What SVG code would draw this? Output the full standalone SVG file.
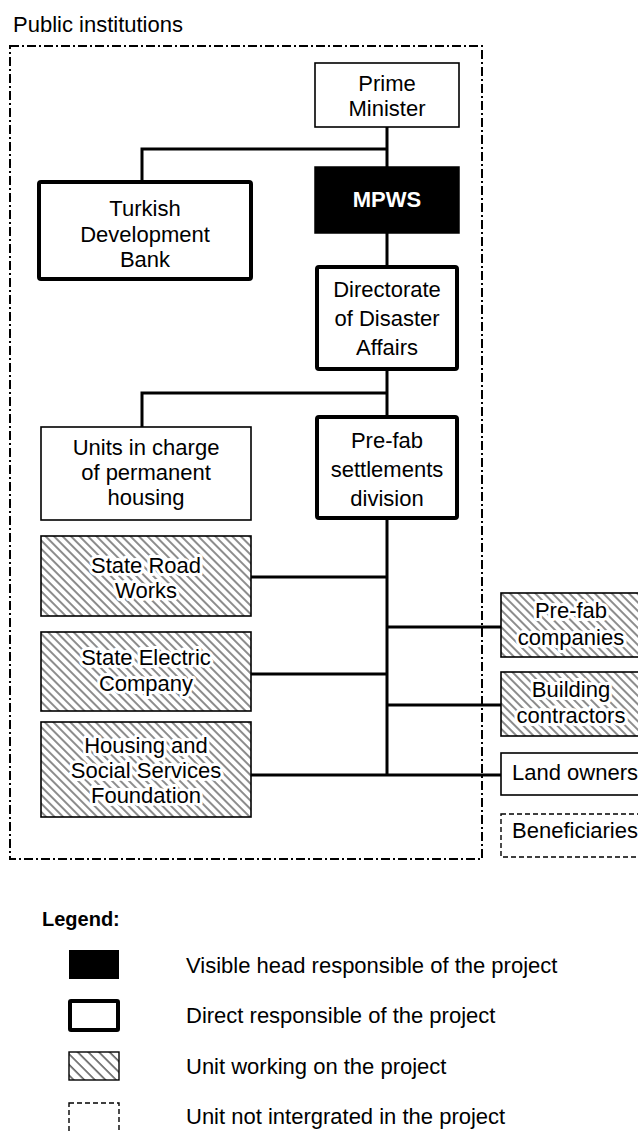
<svg xmlns="http://www.w3.org/2000/svg" width="638" height="1131" viewBox="0 0 638 1131">
<defs>
<pattern id="hatch" patternUnits="userSpaceOnUse" width="6" height="6" patternTransform="rotate(-45)">
<line x1="1" y1="-1" x2="1" y2="7" stroke="#000" stroke-width="0.9"/>
</pattern>
<pattern id="hatchL" patternUnits="userSpaceOnUse" width="7.5" height="7.5" patternTransform="rotate(-45)">
<line x1="1" y1="-1" x2="1" y2="9" stroke="#000" stroke-width="1"/>
</pattern>
</defs>
<style>
text{font-family:"Liberation Sans",Arial,sans-serif;font-size:22px;fill:#000}
.c{text-anchor:middle}
.halo{paint-order:stroke;stroke:#fff;stroke-width:6px;stroke-linejoin:round}
.thin{fill:#fff;stroke:#000;stroke-width:1.6}
.thick{fill:#fff;stroke:#000;stroke-width:4;stroke-linejoin:round}
.hat{fill:url(#hatch);stroke:#000;stroke-width:1.6}
.dash{fill:#fff;stroke:#000;stroke-width:1.4;stroke-dasharray:5,3}
.conn{fill:none;stroke:#000;stroke-width:3}
</style>
<rect width="638" height="1131" fill="#fff"/>
<text x="13" y="32">Public institutions</text>
<rect x="10" y="46" width="472" height="813" fill="none" stroke="#000" stroke-width="2" stroke-dasharray="9,3,2,3"/>

<g id="connectors">
<path class="conn" d="M387,127V167M387,149H142V182M387,233V267M387,369V417M387,393H142V427M387,518V775M251,577H387M251,674H387M251,775H501M387,627H501M387,705H501"/>
</g>

<g id="prime-minister"><rect class="thin" x="315" y="63" width="144" height="64"/><text class="c" x="387" y="91">Prime</text><text class="c" x="387" y="116">Minister</text></g>
<g id="mpws"><rect x="315" y="167" width="144" height="66" fill="#000" stroke="#000" stroke-width="1.5"/><text class="c" x="387" y="207" font-weight="bold" style="fill:#fff">MPWS</text></g>
<g id="turkish-development-bank"><rect class="thick" x="39" y="182" width="212" height="97" rx="2"/><text class="c" x="145" y="216">Turkish</text><text class="c" x="145" y="242">Development</text><text class="c" x="145" y="267">Bank</text></g>
<g id="directorate"><rect class="thick" x="317" y="267" width="140" height="102" rx="2"/><text class="c" x="387" y="297">Directorate</text><text class="c" x="387" y="326">of Disaster</text><text class="c" x="387" y="355">Affairs</text></g>
<g id="units-permanent-housing"><rect class="thin" x="41" y="427" width="210" height="93"/><text class="c" x="146" y="455">Units in charge</text><text class="c" x="146" y="480">of permanent</text><text class="c" x="146" y="505">housing</text></g>
<g id="prefab-settlements"><rect class="thick" x="317" y="417" width="140" height="101" rx="2"/><text class="c" x="387" y="448">Pre-fab</text><text class="c" x="387" y="477">settlements</text><text class="c" x="387" y="506">division</text></g>
<g id="state-road-works"><rect class="hat" x="41" y="536" width="210" height="80"/><text class="c halo" x="146" y="573">State Road</text><text class="c halo" x="146" y="598">Works</text></g>
<g id="state-electric"><rect class="hat" x="41" y="632" width="210" height="79"/><text class="c halo" x="146" y="665">State Electric</text><text class="c halo" x="146" y="691">Company</text></g>
<g id="housing-foundation"><rect class="hat" x="41" y="722" width="210" height="95"/><text class="c halo" x="146" y="753">Housing and</text><text class="c halo" x="146" y="778">Social Services</text><text class="c halo" x="146" y="803">Foundation</text></g>
<g id="prefab-companies"><rect class="hat" x="501" y="593" width="142" height="64"/><text class="c halo" x="571" y="618">Pre-fab</text><text class="c halo" x="571" y="645">companies</text></g>
<g id="building-contractors"><rect class="hat" x="501" y="672" width="142" height="64"/><text class="c halo" x="571" y="697">Building</text><text class="c halo" x="571" y="723">contractors</text></g>
<g id="land-owners"><rect class="thin" x="501" y="753" width="142" height="42"/><text x="512" y="780">Land owners</text></g>
<g id="beneficiaries"><rect class="dash" x="501" y="814" width="142" height="43"/><text x="512" y="838">Beneficiaries</text></g>

<g id="legend">
<text x="42" y="926" font-weight="bold" style="font-size:20px">Legend:</text>
<rect x="69" y="950" width="50" height="29" fill="#000"/>
<text x="186" y="973">Visible head responsible of the project</text>
<rect class="thick" x="70" y="1001" width="48" height="29" rx="1"/>
<text x="186" y="1023">Direct responsible of the project</text>
<rect x="69" y="1052" width="50" height="28" fill="url(#hatchL)" stroke="#000" stroke-width="1.4"/>
<text x="186" y="1074">Unit working on the project</text>
<rect class="dash" x="69" y="1103" width="50" height="40"/>
<text x="186" y="1124">Unit not intergrated in the project</text>
</g>
</svg>
